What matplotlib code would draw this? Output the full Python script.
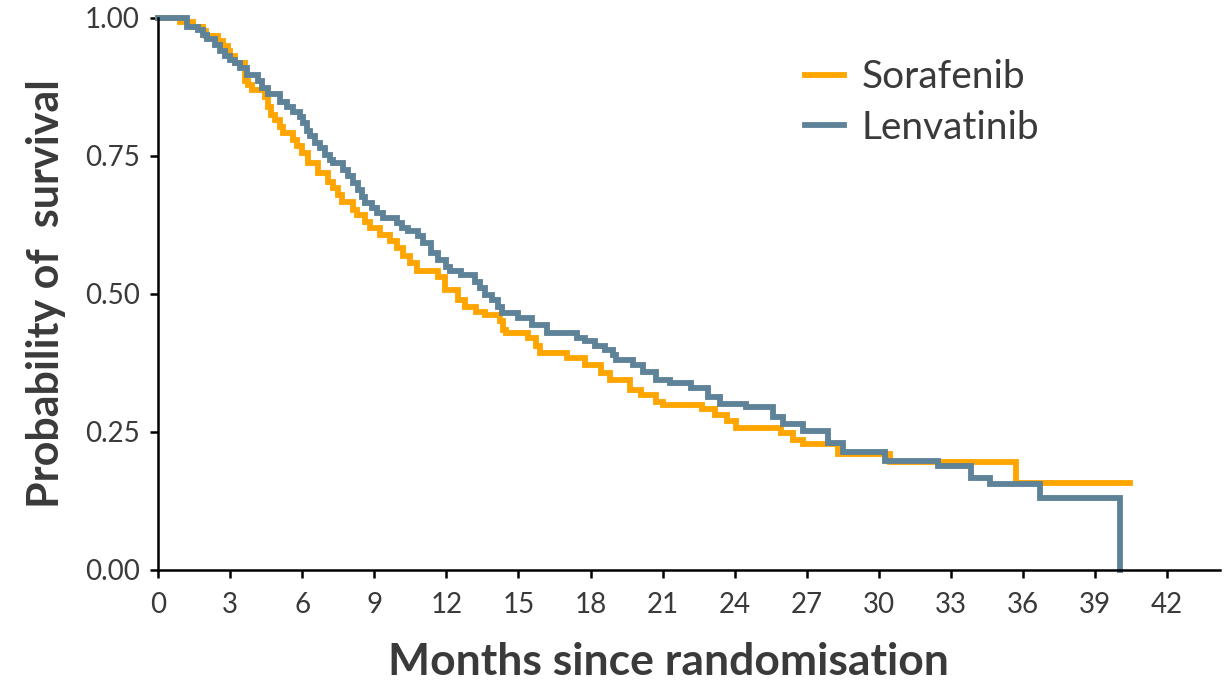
import matplotlib
matplotlib.use("Agg")
import matplotlib.pyplot as plt

plt.rcParams['font.family'] = ['Lato', 'DejaVu Sans']

# Kaplan-Meier steps: (months, survival after the step)
sora_t = [0, 0.92, 1.47, 1.89, 2.0, 2.51, 2.72, 2.9, 3.0, 3.2, 3.62, 3.75, 3.9,
          4.45, 4.59, 4.7, 4.87, 5.07, 5.2, 5.63, 5.8, 5.98, 6.25, 6.67, 7.08,
          7.29, 7.5, 7.64, 8.12, 8.26, 8.61, 8.82, 9.23, 9.65, 9.93, 10.2, 10.5,
          10.76, 11.66, 11.94, 12.49, 12.77, 13.25, 13.6, 14.23, 14.37, 14.5,
          15.4, 15.75, 15.9, 17.0, 17.77, 18.45, 18.8, 19.63, 20.12, 20.74,
          21.02, 22.62, 23.17, 23.66, 24.07, 25.94, 26.43, 26.85, 28.3, 30.45,
          35.72, 40.43]
sora_s = [1.0, 0.992, 0.984, 0.976, 0.966, 0.957, 0.948, 0.939, 0.93, 0.918,
          0.885, 0.879, 0.87, 0.857, 0.839, 0.824, 0.815, 0.803, 0.791, 0.779,
          0.767, 0.755, 0.737, 0.719, 0.703, 0.691, 0.679, 0.667, 0.652, 0.643,
          0.631, 0.619, 0.607, 0.595, 0.583, 0.568, 0.555, 0.541, 0.531, 0.507,
          0.489, 0.477, 0.468, 0.462, 0.45, 0.435, 0.429, 0.42, 0.405, 0.393,
          0.384, 0.371, 0.356, 0.344, 0.326, 0.317, 0.305, 0.299, 0.291, 0.281,
          0.27, 0.257, 0.248, 0.236, 0.228, 0.21, 0.195, 0.157, 0.157]

lenv_t = [0, 1.2, 1.68, 1.89, 2.03, 2.37, 2.58, 2.79, 3.0, 3.2, 3.41, 3.69,
          4.17, 4.31, 4.59, 5.07, 5.35, 5.63, 5.91, 6.04, 6.18, 6.32, 6.53,
          6.74, 6.95, 7.15, 7.29, 7.71, 7.92, 8.12, 8.33, 8.47, 8.61, 8.89,
          9.1, 9.37, 9.93, 10.14, 10.41, 10.83, 11.04, 11.38, 11.66, 12.0,
          12.14, 12.62, 13.18, 13.4, 13.6, 13.88, 14.16, 14.3, 15.0, 15.55,
          16.17, 17.42, 17.77, 18.18, 18.6, 18.94, 19.08, 19.77, 20.19, 20.74,
          21.3, 22.2, 22.9, 23.38, 24.49, 25.6, 26.01, 26.85, 27.89, 28.51,
          30.24, 32.46, 33.85, 34.61, 36.69, 40.02]
lenv_s = [1.0, 0.984, 0.977, 0.969, 0.961, 0.951, 0.939, 0.93, 0.924, 0.918,
          0.909, 0.897, 0.885, 0.873, 0.861, 0.848, 0.839, 0.83, 0.821, 0.809,
          0.794, 0.785, 0.773, 0.764, 0.752, 0.743, 0.737, 0.725, 0.713, 0.70,
          0.688, 0.676, 0.664, 0.655, 0.646, 0.637, 0.628, 0.619, 0.613, 0.604,
          0.592, 0.574, 0.562, 0.549, 0.541, 0.534, 0.522, 0.51, 0.498, 0.489,
          0.477, 0.465, 0.456, 0.444, 0.429, 0.42, 0.414, 0.405, 0.399, 0.389,
          0.38, 0.371, 0.359, 0.344, 0.338, 0.329, 0.314, 0.30, 0.295, 0.277,
          0.264, 0.252, 0.23, 0.213, 0.198, 0.188, 0.167, 0.156, 0.13, 0.0]

xticks = list(range(0, 43, 3))
yticks = [0.0, 0.25, 0.5, 0.75, 1.0]

ORANGE = "#FFA500"
BLUE = "#5E8298"
TXT = "#3a3a3a"

fig = plt.figure(figsize=(12.25, 6.81), dpi=100)
ax = fig.add_axes([0.129, 0.163, 0.867, 0.811])

ax.step(sora_t, sora_s, where='post', color=ORANGE, lw=4.2, label='Sorafenib',
        clip_on=False, solid_joinstyle='miter')
ax.step(lenv_t, lenv_s, where='post', color=BLUE, lw=4.2, label='Lenvatinib',
        clip_on=False, solid_joinstyle='miter')

ax.set_xlim(0, 44.2)
ax.set_ylim(0, 1)
ax.set_xticks(xticks)
ax.set_yticks(yticks)
ax.set_yticklabels(['0.00', '0.25', '0.50', '0.75', '1.00'])

for side in ['top', 'right']:
    ax.spines[side].set_visible(False)
for side in ['left', 'bottom']:
    ax.spines[side].set_linewidth(1.8)
ax.tick_params(direction='out', length=6, width=1.8, labelsize=20,
               labelcolor=TXT)
ax.tick_params(axis='x', pad=10)
ax.tick_params(axis='y', pad=7)

ax.set_xlabel('Months since randomisation', fontsize=32, fontweight='bold',
              color=TXT)
ax.xaxis.set_label_coords(0.481, -0.13)
ax.set_ylabel('Probability of  survival', fontsize=31, fontweight='bold',
              color=TXT, labelpad=14)

ax.legend(loc='upper left', bbox_to_anchor=(0.591, 0.96), frameon=False,
          fontsize=28, handlelength=1.0, handletextpad=0.45, labelspacing=0.38,
          borderpad=0, labelcolor=TXT)

fig.savefig('out.png', dpi=100)
